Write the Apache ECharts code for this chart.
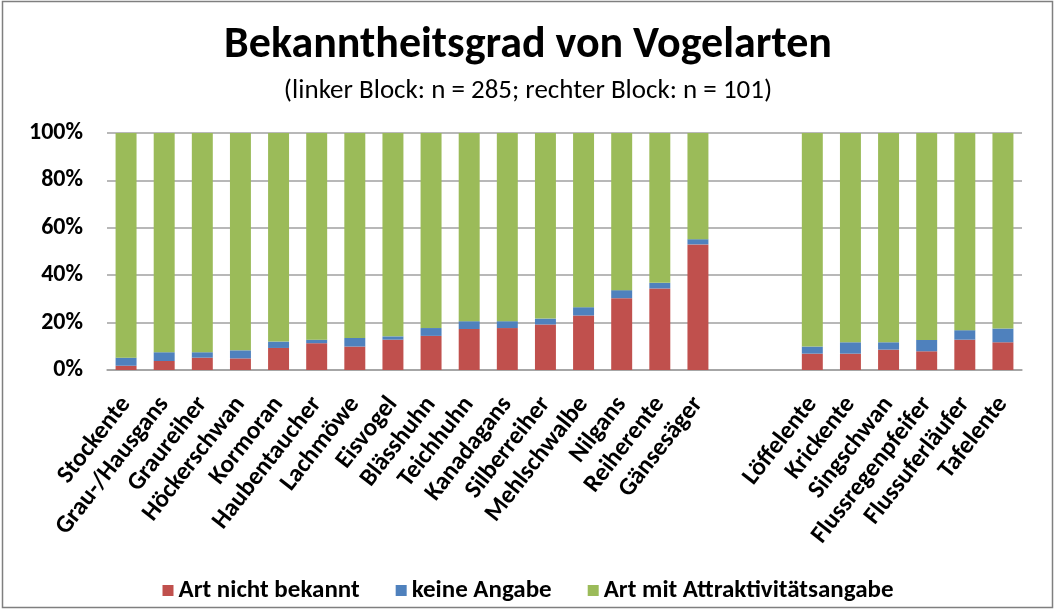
<!DOCTYPE html>
<html lang="de">
<head>
    <meta charset="UTF-8">
    <title>Bekanntheitsgrad von Vogelarten</title>
    <style type="text/css">
        html, body { margin: 0; padding: 0; background: #fff; }
        #vogelChart { width: 1056px; height: 610px; }
    </style>
</head>
<body>
<div id="vogelChart"></div>

<script src="https://cdn.jsdelivr.net/npm/echarts@6/dist/echarts.min.js"></script>
<script type="text/javascript">
    // Kategorien: linker Block, zwei Leerplätze, rechter Block
    var arten = ['Stockente', 'Grau-/Hausgans', 'Graureiher', 'Höckerschwan', 'Kormoran', 'Haubentaucher',
        'Lachmöwe', 'Eisvogel', 'Blässhuhn', 'Teichhuhn', 'Kanadagans', 'Silberreiher', 'Mehlschwalbe',
        'Nilgans', 'Reiherente', 'Gänsesäger', '', ' ',
        'Löffelente', 'Krickente', 'Singschwan', 'Flussregenpfeifer', 'Flussuferläufer', 'Tafelente'];

    // Anteile in Prozent
    var nichtBekannt = [1.8, 3.8, 5.2, 4.9, 9.3, 11.3, 9.9, 12.8, 14.4, 17.3, 17.7, 19.2, 23.0,
        30.3, 34.4, 53.0, '-', '-', 6.9, 6.9, 8.6, 7.9, 12.8, 11.7];
    var keineAngabe = [3.4, 3.7, 2.3, 3.4, 2.7, 1.5, 3.6, 1.4, 3.3, 3.3, 2.9, 2.5, 3.5,
        3.4, 2.4, 2.2, '-', '-', 3.0, 4.8, 3.1, 4.8, 4.0, 5.8];
    var mitAttraktivitaet = [94.8, 92.5, 92.5, 91.7, 88.0, 87.2, 86.5, 85.8, 82.3, 79.4, 79.4, 78.3, 73.5,
        66.3, 63.2, 44.8, '-', '-', 90.1, 88.3, 88.3, 87.3, 83.2, 82.5];

    var yTicks = [0, 20, 40, 60, 80, 100];

    var schrift = 'Carlito, Lato, "Noto Sans", sans-serif';

    var vogelChart = echarts.init(document.getElementById('vogelChart'));

    var option = {
        animation: false,
        textStyle: { fontFamily: schrift },
        title: [
            {
                text: 'Bekanntheitsgrad von Vogelarten',
                left: 'center',
                top: 19,
                textStyle: { fontFamily: schrift, fontSize: 44, fontWeight: 'bold', color: '#000' }
            },
            {
                text: '(linker Block: n = 285; rechter Block: n = 101)',
                left: 'center',
                top: 73,
                textStyle: { fontFamily: schrift, fontSize: 27, fontWeight: 'normal', color: '#000' }
            }
        ],
        graphic: [
            {
                type: 'rect',
                shape: { x: 2.5, y: 1.5, width: 1050, height: 606 },
                style: { fill: 'none', stroke: '#7f7f7f', lineWidth: 1.5 },
                silent: true
            }
        ],
        legend: {
            bottom: 2,
            left: 'center',
            itemWidth: 11,
            itemHeight: 11,
            itemGap: 36,
            icon: 'rect',
            textStyle: { fontFamily: schrift, fontSize: 25, fontWeight: 'bold', color: '#000' },
            data: ['Art nicht bekannt', 'keine Angabe', 'Art mit Attraktivitätsangabe']
        },
        grid: { left: 107, right: 34, top: 133, bottom: 240 },
        xAxis: {
            type: 'category',
            data: arten,
            axisLine: { lineStyle: { color: '#a0a0a0', width: 1.5 } },
            axisTick: { show: false },
            axisLabel: {
                interval: 0,
                rotate: 52,
                margin: 30,
                color: '#000',
                fontSize: 25,
                fontWeight: 'bold',
                fontFamily: schrift
            }
        },
        yAxis: {
            type: 'value',
            min: yTicks[0],
            max: yTicks[yTicks.length - 1],
            interval: 20,
            axisLine: { show: false },
            axisTick: { show: false },
            splitLine: { lineStyle: { color: '#a0a0a0', width: 1.5 } },
            axisLabel: {
                formatter: '{value}%',
                margin: 24,
                color: '#000',
                fontSize: 24,
                fontWeight: 'bold',
                fontFamily: schrift
            }
        },
        series: [
            {
                name: 'Art nicht bekannt',
                type: 'bar',
                stack: 'gesamt',
                barWidth: '55%',
                itemStyle: { color: '#c0504d' },
                data: nichtBekannt
            },
            {
                name: 'keine Angabe',
                type: 'bar',
                stack: 'gesamt',
                barWidth: '55%',
                itemStyle: { color: '#4f81bd' },
                data: keineAngabe
            },
            {
                name: 'Art mit Attraktivitätsangabe',
                type: 'bar',
                stack: 'gesamt',
                barWidth: '55%',
                itemStyle: { color: '#9bbb59' },
                data: mitAttraktivitaet
            }
        ]
    };

    vogelChart.setOption(option);
</script>
</body>
</html>
